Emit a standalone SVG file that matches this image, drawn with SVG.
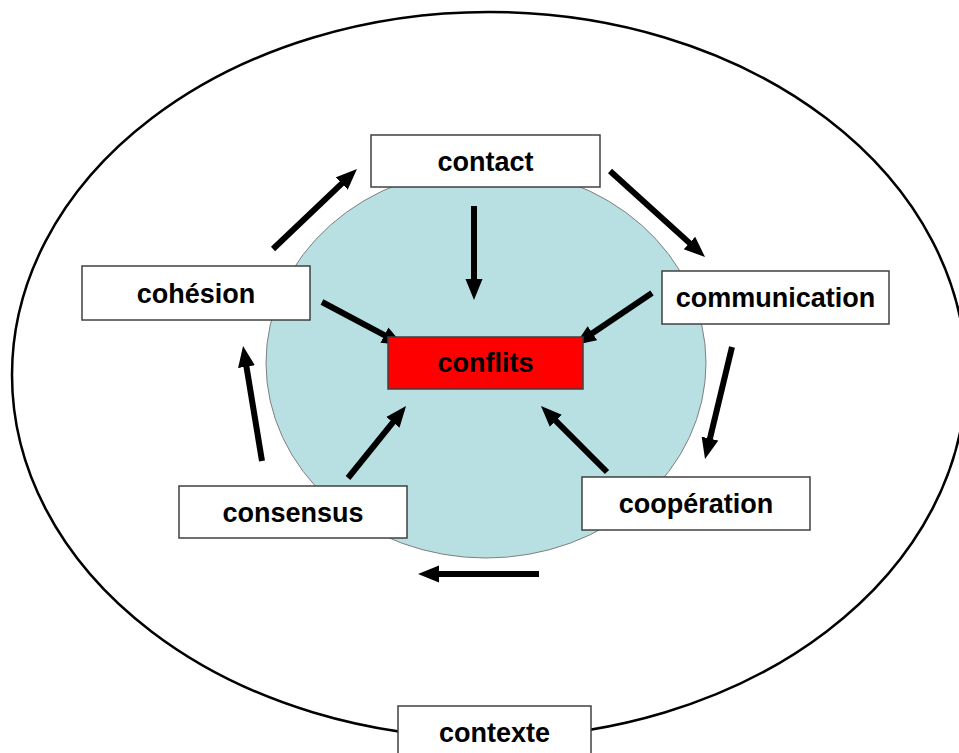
<svg xmlns="http://www.w3.org/2000/svg" width="959" height="753" viewBox="0 0 959 753">
  <defs>
    <marker id="head" markerUnits="userSpaceOnUse" markerWidth="22" markerHeight="18" viewBox="0 -9 22 18" refX="1" refY="0" orient="auto">
      <path d="M0,-8.5 L21,0 L0,8.5 z" fill="#000"/>
    </marker>
    <style>
      .box { fill: #ffffff; stroke: #404040; stroke-width: 1.5; }
      .hot { fill: #ff0000; stroke: #404040; stroke-width: 1.5; }
      .lbl { font-family: "Liberation Sans", Arial, sans-serif; font-weight: bold; font-size: 27px; fill: #000; text-anchor: middle; }
      .arrow { stroke: #000; stroke-width: 6; fill: none; marker-end: url(#head); }
    </style>
  </defs>

  <rect width="959" height="753" fill="#ffffff"/>

  <!-- outer context boundary -->
  <ellipse id="context-boundary" cx="489" cy="375" rx="477" ry="363" fill="none" stroke="#000" stroke-width="2.5"/>

  <!-- inner disc -->
  <ellipse id="core" cx="486" cy="363" rx="220" ry="195" fill="#b8dfe2" stroke="#808080" stroke-width="1"/>

  <!-- connectors -->
  <g id="connectors">
    <line class="arrow" x1="273" y1="249" x2="342.5" y2="182.8"/>
    <line class="arrow" x1="474" y1="206" x2="474" y2="280"/>
    <line class="arrow" x1="610" y1="171" x2="690.2" y2="243.6"/>
    <line class="arrow" x1="322" y1="302" x2="385.3" y2="335.6"/>
    <line class="arrow" x1="652" y1="293" x2="591.6" y2="333.8"/>
    <line class="arrow" x1="348" y1="478" x2="393.5" y2="421.6"/>
    <line class="arrow" x1="607" y1="472" x2="555.1" y2="420.1"/>
    <line class="arrow" x1="732" y1="347" x2="709.7" y2="439.6"/>
    <line class="arrow" x1="262" y1="461" x2="246.3" y2="365.7"/>
    <line class="arrow" x1="539" y1="574" x2="438" y2="574"/>
  </g>

  <g id="contact">
    <rect class="box" x="371" y="135" width="229" height="52"/>
    <text class="lbl" x="485.5" y="171">contact</text>
  </g>
  <g id="communication">
    <rect class="box" x="662" y="271" width="227" height="53"/>
    <text class="lbl" x="775.5" y="307">communication</text>
  </g>
  <g id="cooperation">
    <rect class="box" x="582" y="477" width="228" height="53"/>
    <text class="lbl" x="696" y="513">coopération</text>
  </g>
  <g id="consensus">
    <rect class="box" x="179" y="486" width="228" height="52"/>
    <text class="lbl" x="293" y="522">consensus</text>
  </g>
  <g id="cohesion">
    <rect class="box" x="82" y="266" width="228" height="54"/>
    <text class="lbl" x="196" y="303">cohésion</text>
  </g>
  <g id="conflits">
    <rect class="hot" x="388" y="337" width="195" height="52"/>
    <text class="lbl" x="485.5" y="372">conflits</text>
  </g>
  <g id="contexte">
    <rect class="box" x="398" y="706" width="193" height="56"/>
    <text class="lbl" x="494.5" y="742">contexte</text>
  </g>
</svg>
